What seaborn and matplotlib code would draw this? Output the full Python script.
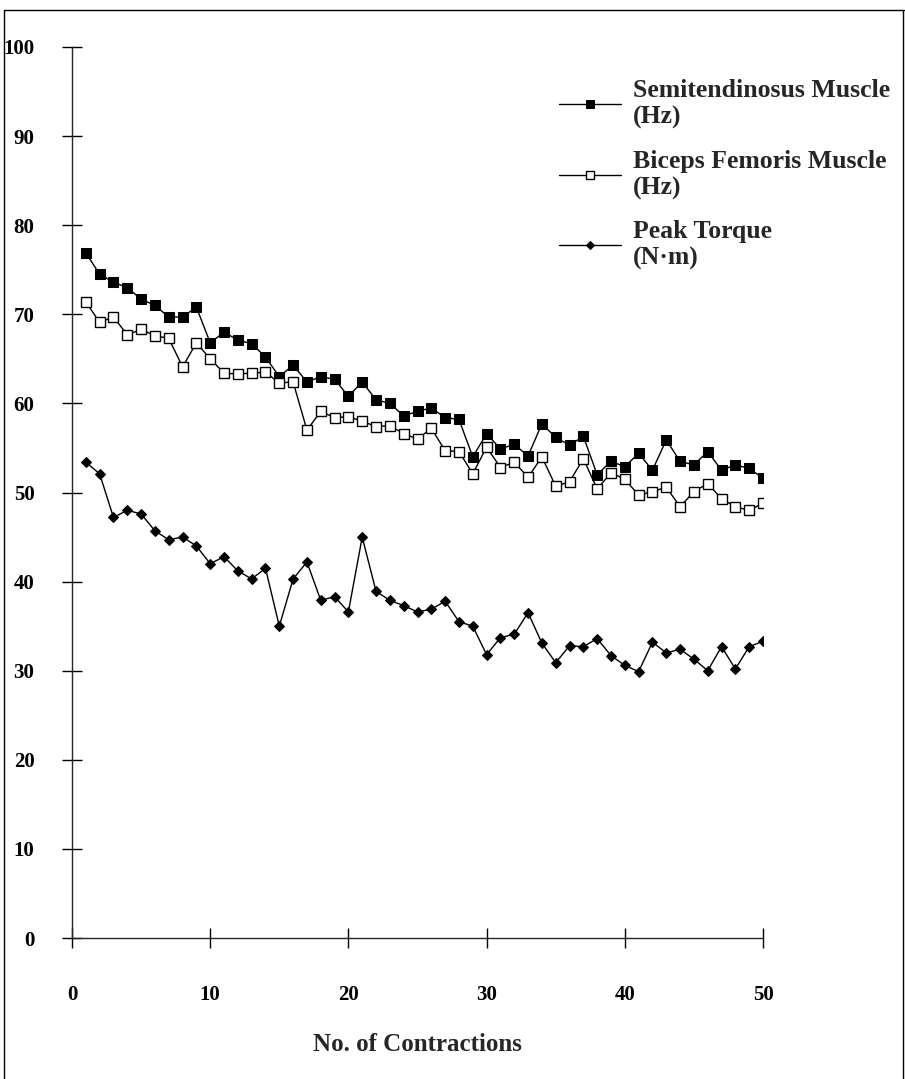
import numpy as np
import pandas as pd
import seaborn as sns
import matplotlib.pyplot as plt
from matplotlib.lines import Line2D

contractions = list(range(1, 51))

semitendinosus = [76.9, 74.5, 73.6, 73.0, 71.7, 71.0, 69.7, 69.7, 70.8, 66.8,
                  68.0, 67.1, 66.7, 65.2, 63.0, 64.3, 62.4, 63.0, 62.7, 60.8,
                  62.4, 60.4, 60.0, 58.6, 59.1, 59.5, 58.4, 58.2, 54.0, 56.6,
                  54.9, 55.4, 54.1, 57.7, 56.2, 55.3, 56.3, 52.0, 53.5, 52.9,
                  54.4, 52.5, 55.9, 53.5, 53.1, 54.6, 52.5, 53.1, 52.7, 51.6]

biceps_femoris = [71.4, 69.1, 69.7, 67.7, 68.3, 67.6, 67.3, 64.1, 66.8, 65.0,
                  63.4, 63.3, 63.4, 63.5, 62.3, 62.4, 57.0, 59.1, 58.4, 58.5,
                  58.0, 57.4, 57.5, 56.6, 56.0, 57.2, 54.7, 54.6, 52.1, 55.1,
                  52.8, 53.4, 51.7, 54.0, 50.7, 51.2, 53.8, 50.4, 52.2, 51.5,
                  49.7, 50.1, 50.6, 48.4, 50.1, 51.0, 49.3, 48.4, 48.0, 48.8]

peak_torque = [53.4, 52.1, 47.2, 48.0, 47.6, 45.7, 44.7, 45.0, 44.0, 42.0,
               42.8, 41.2, 40.3, 41.5, 35.0, 40.3, 42.2, 37.9, 38.3, 36.6,
               45.0, 38.9, 37.9, 37.3, 36.6, 36.9, 37.8, 35.5, 35.0, 31.8,
               33.7, 34.1, 36.5, 33.1, 30.9, 32.8, 32.7, 33.6, 31.7, 30.6,
               29.9, 33.2, 32.0, 32.4, 31.3, 30.0, 32.7, 30.2, 32.7, 33.3]

labels = ['Semitendinosus Muscle\n(Hz)', 'Biceps Femoris Muscle\n(Hz)', 'Peak Torque\n(N·m)']

sns.set_style('ticks')
plt.rcParams['font.family'] = ['Liberation Serif', 'DejaVu Serif']
plt.rcParams['font.weight'] = 'bold'

fig = plt.figure(figsize=(9.05, 10.79), dpi=100)
ax = fig.add_axes([72 / 905, 1 - 938 / 1079, 691 / 905, 891 / 1079])

sns.lineplot(x=contractions, y=semitendinosus, ax=ax, color='black', lw=1.0,
             marker='s', markersize=7, markerfacecolor='black',
             markeredgecolor='black', label=labels[0])
sns.lineplot(x=contractions, y=biceps_femoris, ax=ax, color='black', lw=1.0,
             marker='s', markersize=7.5, markerfacecolor='white',
             markeredgecolor='black', markeredgewidth=1.0, label=labels[1])
sns.lineplot(x=contractions, y=peak_torque, ax=ax, color='black', lw=1.0,
             marker='D', markersize=5, markerfacecolor='black',
             markeredgecolor='black', label=labels[2])

ax.set_xlim(0, 50)
ax.set_ylim(0, 100)
ax.set_xticks(range(0, 51, 10))
ax.set_yticks(range(0, 101, 10))
ax.tick_params(axis='both', direction='inout', length=14, width=1.0,
               labelsize=15, colors='black')
ax.tick_params(axis='y', pad=20)
ax.tick_params(axis='x', pad=27)
for lab in ax.get_xticklabels() + ax.get_yticklabels():
    lab.set_fontweight('bold')
ax.spines['top'].set_visible(False)
ax.spines['right'].set_visible(False)
ax.spines['left'].set_linewidth(1.0)
ax.spines['bottom'].set_linewidth(1.0)
ax.set_xlabel('No. of Contractions', fontsize=18, fontweight='bold', labelpad=20)
ax.set_ylabel('')

leg = ax.legend(loc='upper left', bbox_to_anchor=(0.672, 0.99), frameon=False,
                handlelength=2.4, handletextpad=0.45, labelspacing=0.8,
                markerscale=0.8, prop={'weight': 'bold', 'size': 18.5})

# outer frame around the figure
fig.add_artist(Line2D([4 / 905, 4 / 905], [0, 1 - 10 / 1079], color='black', lw=1.0))
fig.add_artist(Line2D([4 / 905, 904 / 905], [1 - 10 / 1079, 1 - 10 / 1079], color='black', lw=1.0))
fig.add_artist(Line2D([903 / 905, 903 / 905], [0, 1 - 10 / 1079], color='black', lw=1.0))

fig.savefig('out.png', dpi=100)
